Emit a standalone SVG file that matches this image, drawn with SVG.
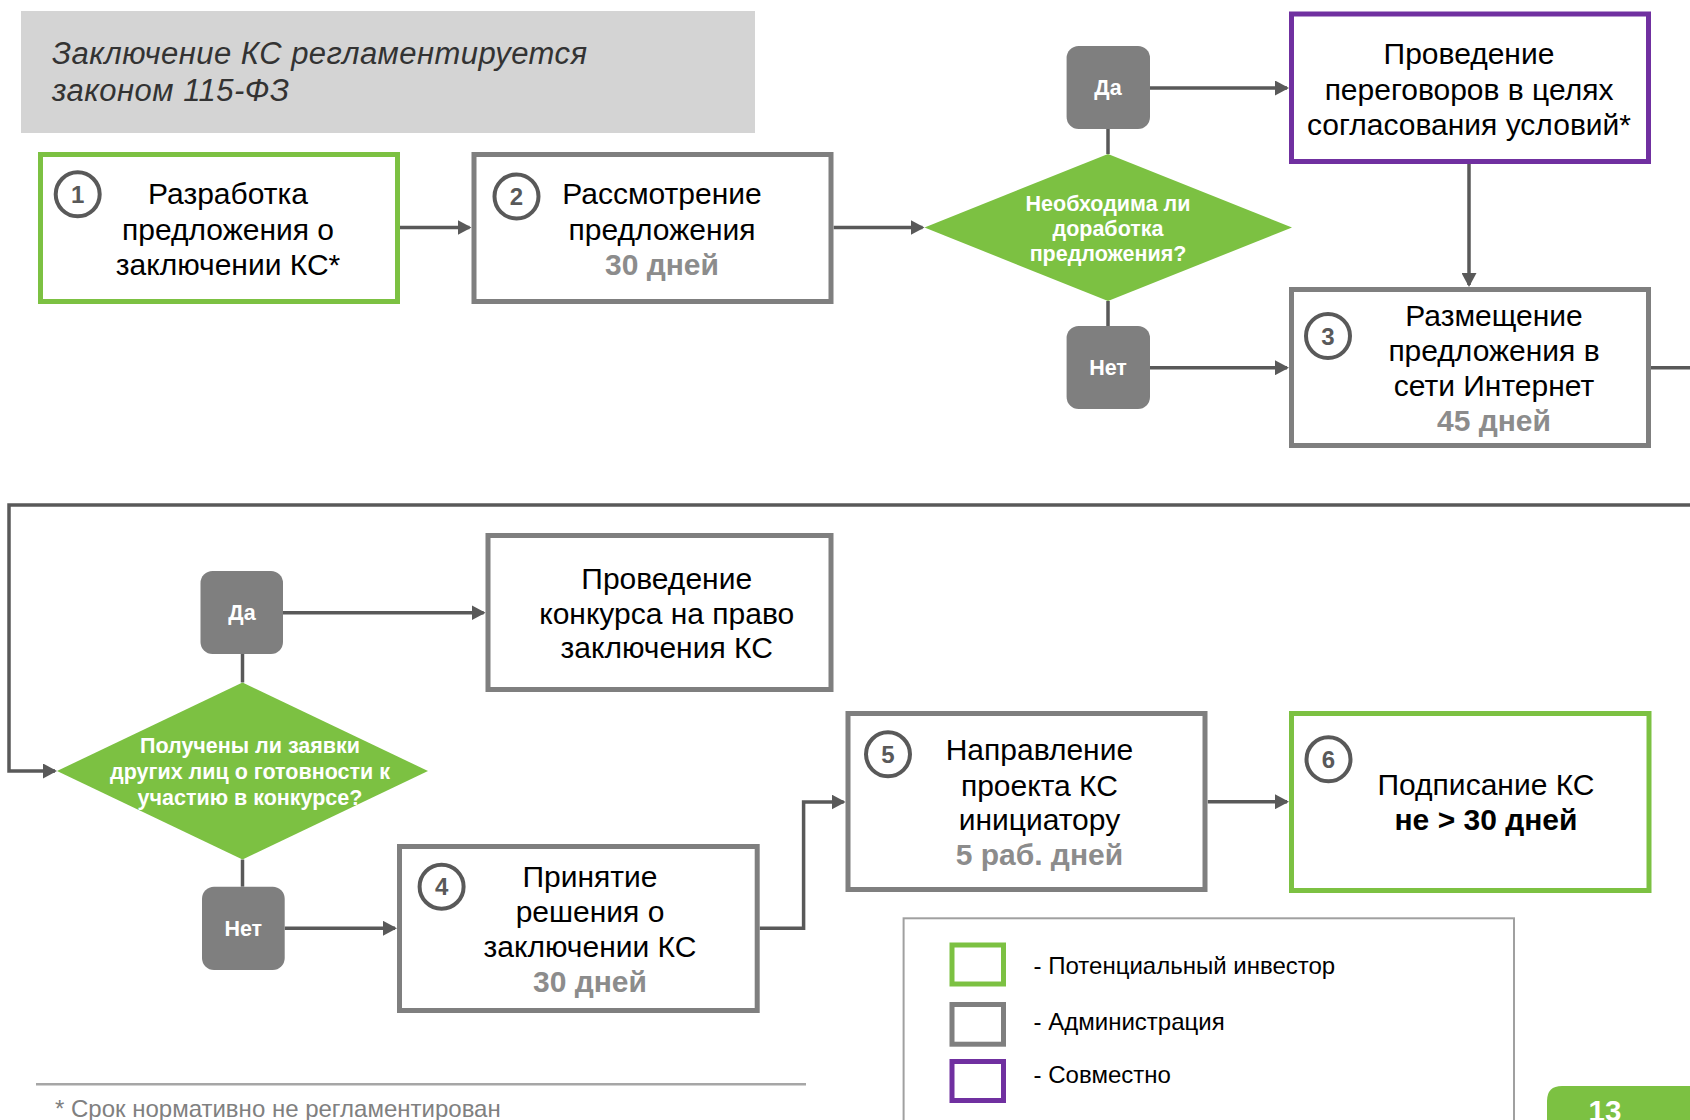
<svg xmlns="http://www.w3.org/2000/svg" width="1690" height="1120" viewBox="0 0 1690 1120">
<defs>
<style>
.t{font-family:"Liberation Sans",Arial,sans-serif;font-size:30px;fill:#000;text-anchor:middle}
.d{font-weight:bold;fill:#8C8C8C}
.q{font-family:"Liberation Sans",Arial,sans-serif;font-size:21.5px;font-weight:bold;fill:#fff;text-anchor:middle}
.lg{font-family:"Liberation Sans",Arial,sans-serif;font-size:24px;fill:#000}
.num{font-family:"Liberation Sans",Arial,sans-serif;font-size:24px;font-weight:bold;fill:#595959;text-anchor:middle}
.ti{font-family:"Liberation Sans",Arial,sans-serif;font-size:31px;font-style:italic;fill:#333}
.bg{fill:#fff;stroke:#7F7F7F;stroke-width:5}
.bgr{fill:#fff;stroke:#7CC142;stroke-width:5}
.bp{fill:#fff;stroke:#7030A0;stroke-width:5}
.circ{fill:#fff;stroke:#595959;stroke-width:4}
.yn{fill:#7F7F7F}
.dia{fill:#7CC142}
.c{fill:none;stroke:#595959;stroke-width:3.5}
.ca{fill:none;stroke:#595959;stroke-width:3.5;marker-end:url(#ah)}
</style>
<marker id="ah" markerUnits="userSpaceOnUse" markerWidth="14" markerHeight="15" refX="12" refY="7.5" orient="auto">
<path d="M0,0 L14,7.5 L0,15 Z" fill="#595959"/>
</marker>
</defs>
<rect width="1690" height="1120" fill="#fff"/>

<g id="title">
<rect x="21" y="11" width="734" height="122" fill="#D4D4D4"/>
<text class="ti" x="52" y="64" textLength="535" lengthAdjust="spacing">Заключение КС регламентируется</text>
<text class="ti" x="52" y="101" textLength="237" lengthAdjust="spacing">законом 115-ФЗ</text>
</g>

<g id="connectors">
<path class="ca" d="M400,227.5 H469.5"/>
<path class="ca" d="M833.6,227.5 H922.5"/>
<path class="c" d="M1108,129 V154"/>
<path class="c" d="M1108,301 V326"/>
<path class="ca" d="M1150,88 H1287"/>
<path class="ca" d="M1150,367.7 H1287"/>
<path class="ca" d="M1469,164 V285"/>
<path class="ca" d="M1651,367.7 H1700 V505 H9 V771 H55"/>
<path class="c" d="M242.5,654 V682.5"/>
<path class="c" d="M242.5,859.5 V886.7"/>
<path class="ca" d="M283,612.7 H483.6"/>
<path class="ca" d="M284.7,928.3 H395"/>
<path class="ca" d="M759.7,928.3 H803.6 V802 H843.6"/>
<path class="ca" d="M1207.7,801.7 H1287"/>
</g>

<g id="n1">
<rect class="bgr" x="40.5" y="154.5" width="357" height="147"/>
<circle class="circ" cx="77.7" cy="194.3" r="22"/>
<text class="num" x="77.7" y="202.8">1</text>
<text class="t" x="228" y="204">Разработка</text>
<text class="t" x="228" y="240">предложения о</text>
<text class="t" x="228" y="275">заключении КС*</text>
</g>

<g id="n2">
<rect class="bg" x="474" y="154.5" width="357" height="147"/>
<circle class="circ" cx="516.5" cy="196.5" r="22"/>
<text class="num" x="516.5" y="205">2</text>
<text class="t" x="662" y="204">Рассмотрение</text>
<text class="t" x="662" y="240">предложения</text>
<text class="t d" x="662" y="275">30 дней</text>
</g>

<g id="q1">
<polygon class="dia" points="924.5,227.5 1108,154 1292,227.5 1108,301"/>
<text class="q" x="1108" y="211">Необходима ли</text>
<text class="q" x="1108" y="236">доработка</text>
<text class="q" x="1108" y="261">предложения?</text>
</g>

<g id="yes1">
<rect class="yn" x="1066.6" y="46" width="83.4" height="83" rx="12"/>
<text class="q" x="1108" y="95">Да</text>
</g>

<g id="no1">
<rect class="yn" x="1066.6" y="326" width="83.4" height="83" rx="12"/>
<text class="q" x="1108" y="375">Нет</text>
</g>

<g id="nego">
<rect class="bp" x="1291.5" y="14" width="357" height="147.5"/>
<text class="t" x="1469" y="64">Проведение</text>
<text class="t" x="1469" y="99.5">переговоров в целях</text>
<text class="t" x="1469" y="135">согласования условий*</text>
</g>

<g id="n3">
<rect class="bg" x="1291.5" y="289.5" width="357" height="156"/>
<circle class="circ" cx="1328" cy="336" r="22"/>
<text class="num" x="1328" y="344.5">3</text>
<text class="t" x="1494" y="326">Размещение</text>
<text class="t" x="1494" y="361">предложения в</text>
<text class="t" x="1494" y="396">сети Интернет</text>
<text class="t d" x="1494" y="431">45 дней</text>
</g>

<g id="q2">
<polygon class="dia" points="57,771 242.5,682.5 428,771 242.5,859.5"/>
<text class="q" x="250" y="753.3">Получены ли заявки</text>
<text class="q" x="250" y="779">других лиц о готовности к</text>
<text class="q" x="250" y="804.5">участию в конкурсе?</text>
</g>

<g id="yes2">
<rect class="yn" x="200.5" y="571" width="82.5" height="83" rx="12"/>
<text class="q" x="242" y="619.5">Да</text>
</g>

<g id="no2">
<rect class="yn" x="202" y="886.7" width="82.7" height="83.3" rx="12"/>
<text class="q" x="243.3" y="935.5">Нет</text>
</g>

<g id="contest">
<rect class="bg" x="488" y="535.5" width="343" height="154"/>
<text class="t" x="666.7" y="589.3">Проведение</text>
<text class="t" x="666.7" y="623.8">конкурса на право</text>
<text class="t" x="666.7" y="658.3">заключения КС</text>
</g>

<g id="n4">
<rect class="bg" x="399.5" y="846.5" width="357.7" height="164"/>
<circle class="circ" cx="441.6" cy="886.7" r="22"/>
<text class="num" x="441.6" y="895.2">4</text>
<text class="t" x="590" y="887">Принятие</text>
<text class="t" x="590" y="922">решения о</text>
<text class="t" x="590" y="957">заключении КС</text>
<text class="t d" x="590" y="992">30 дней</text>
</g>

<g id="n5">
<rect class="bg" x="848" y="713.5" width="357" height="176"/>
<circle class="circ" cx="888" cy="754.3" r="22"/>
<text class="num" x="888" y="762.8">5</text>
<text class="t" x="1039.4" y="760">Направление</text>
<text class="t" x="1039.4" y="796">проекта КС</text>
<text class="t" x="1039.4" y="830">инициатору</text>
<text class="t d" x="1039.4" y="865">5 раб. дней</text>
</g>

<g id="n6">
<rect class="bgr" x="1291.5" y="713.5" width="357.5" height="177"/>
<circle class="circ" cx="1328.5" cy="759.3" r="22"/>
<text class="num" x="1328.5" y="767.8">6</text>
<text class="t" x="1486" y="795">Подписание КС</text>
<text class="t" x="1486" y="830" font-weight="bold">не &gt; 30 дней</text>
</g>

<g id="legend">
<rect x="903.6" y="918.3" width="610.4" height="220" fill="none" stroke="#A0A0A0" stroke-width="2"/>
<rect class="bgr" x="952" y="945" width="51.5" height="39"/>
<rect class="bg" x="952" y="1004.5" width="51.5" height="39.7"/>
<rect class="bp" x="952" y="1061.5" width="51.5" height="39"/>
<text class="lg" x="1033.6" y="973.5">- Потенциальный инвестор</text>
<text class="lg" x="1033.6" y="1029.5">- Администрация</text>
<text class="lg" x="1033.6" y="1083">- Совместно</text>
</g>

<g id="footnote">
<line x1="36" y1="1084.3" x2="806" y2="1084.3" stroke="#A6A6A6" stroke-width="2.5"/>
<text x="55" y="1117" style="font-family:'Liberation Sans',Arial,sans-serif;font-size:24px;fill:#808080">* Срок нормативно не регламентирован</text>
</g>

<g id="page">
<path d="M1547,1125 V1101 Q1547,1086 1562,1086 H1695 V1125 Z" fill="#7CC142"/>
<text x="1605" y="1121" style="font-family:'Liberation Sans',Arial,sans-serif;font-size:29.5px;font-weight:bold;fill:#fff;text-anchor:middle">13</text>
</g>
</svg>
